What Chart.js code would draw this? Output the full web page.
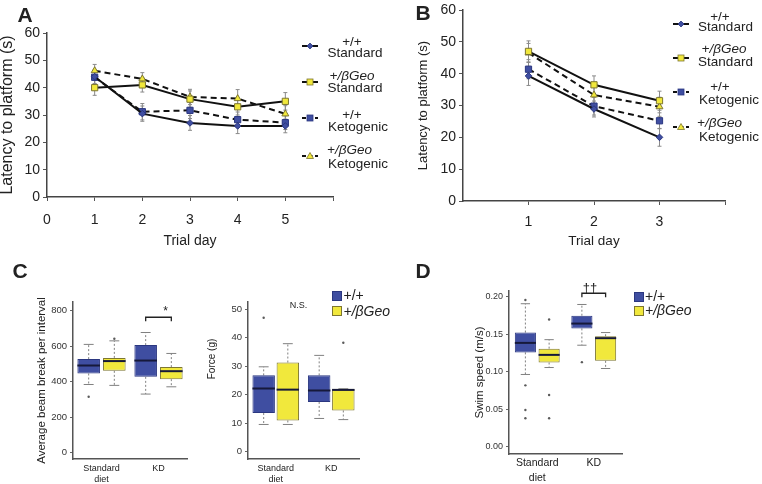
<!DOCTYPE html>
<html><head><meta charset="utf-8">
<script src="https://cdn.jsdelivr.net/npm/chart.js@4.4.1/dist/chart.umd.min.js"></script>
<style>
body{margin:0;background:#fff;}
#wrap{position:relative;width:762px;height:484px;overflow:hidden;font-family:"Liberation Sans",Arial,sans-serif;color:#222;background:#fff;}
canvas{position:absolute;}
.t{position:absolute;white-space:nowrap;transform:translate(-50%,-50%);line-height:1;}
.l{position:absolute;white-space:nowrap;transform:translate(0,-50%);line-height:1;}
svg{position:absolute;overflow:visible;}
</style></head><body><div id="wrap"></div>
<script>
// ---------------- DATA ----------------
// Panel A (5 trial days)
const daysA = [1, 2, 3, 4, 5];
const aWtStd = [44.0, 30.5, 27.1, 26.0, 26.0];
const aWtStdErr = [2.5, 2.8, 2.7, 2.8, 2.5];
const aHetStd = [40.0, 41.0, 35.8, 33.0, 35.0];
const aHetStdErr = [2.8, 2.6, 3.0, 3.0, 3.2];
const aWtKeto = [43.8, 31.2, 31.7, 28.3, 27.2];
const aWtKetoErr = [2.5, 3.0, 3.0, 2.8, 2.5];
const aHetKeto = [46.2, 43.2, 36.6, 36.0, 30.4];
const aHetKetoErr = [2.3, 2.3, 2.8, 3.3, 3.0];
// Panel B (3 trial days)
const daysB = [1, 2, 3];
const bWtStd = [39.3, 28.9, 20.0];
const bWtStdErr = [3.0, 2.5, 2.8];
const bHetStd = [47.0, 36.5, 31.5];
const bHetStdErr = [3.3, 2.8, 3.0];
const bWtKeto = [41.4, 29.8, 25.2];
const bWtKetoErr = [3.0, 2.8, 2.5];
const bHetKeto = [46.5, 33.3, 29.6];
const bHetKetoErr = [3.0, 3.0, 3.0];
const lineTicksY = [0, 10, 20, 30, 40, 50, 60];
const xTicksA = [0, 1, 2, 3, 4, 5, 6];
const xTicksB = [1, 2, 3, 4];
// Box plots: categories
const dietCats = [['Standard', 'diet'], 'KD'];
// C left: beam breaks
const beamWt = {q1: [447, 428], med: [492, 520], q3: [528, 607], lo: [385, 331], hi: [611, 678], out: [[316], []]};
const beamHet = {q1: [462, 415], med: [517, 460], q3: [535, 483], lo: [380, 372], hi: [631, 560], out: [[643], []]};
const beamTicks = [0, 200, 400, 600, 800];
// C right: force
const forceWt = {q1: [13.6, 17.5], med: [22.2, 21.5], q3: [26.8, 26.8], lo: [9.6, 11.7], hi: [29.8, 33.8], out: [[47], []]};
const forceHet = {q1: [11.0, 14.5], med: [21.8, 21.7], q3: [31.3, 22.1], lo: [9.6, 11.3], hi: [37.9, 22.1], out: [[], [38.2]]};
const forceTicks = [0, 10, 20, 30, 40, 50];
// D: swim speed
const swimWt = {q1: [0.126, 0.158], med: [0.1387, 0.1645], q3: [0.1525, 0.175], lo: [0.0965, 0.1356], hi: [0.191, 0.190], out: [[0.196, 0.082, 0.049, 0.038], [0.113]]};
const swimHet = {q1: [0.1125, 0.1147], med: [0.1227, 0.145], q3: [0.131, 0.1476], lo: [0.1058, 0.1045], hi: [0.143, 0.1525], out: [[0.170, 0.069, 0.038], []]};
const swimTicks = [0, 0.05, 0.10, 0.15, 0.20];
// --------------------------------------

const FONT = '"Liberation Sans", Arial, sans-serif';
Chart.defaults.font.family = FONT;
Chart.defaults.color = '#222';
const BLUE = '#3f4ea1', BLUE_EDGE = '#2b3780', YEL = '#f1e83c', YEL_EDGE = '#7d7630';
const wrap = document.getElementById('wrap');

function mkCanvas(box) {
  const c = document.createElement('canvas');
  c.width = box.w; c.height = box.h;
  Object.assign(c.style, {left: box.left + 'px', top: box.top + 'px', width: box.w + 'px', height: box.h + 'px'});
  wrap.appendChild(c);
  return c;
}
function txt(html, cx, cy, css, cls) {
  const d = document.createElement('div');
  d.className = cls || 't';
  d.innerHTML = html;
  d.style.left = cx + 'px'; d.style.top = cy + 'px';
  Object.assign(d.style, css || {});
  wrap.appendChild(d);
  return d;
}

const errorBars = {
  id: 'errorBars',
  beforeDatasetsDraw(chart) {
    const ctx = chart.ctx, y = chart.scales.y;
    chart.data.datasets.forEach((ds, i) => {
      if (!ds.err) return;
      chart.getDatasetMeta(i).data.forEach((pt, j) => {
        const v = ds.data[j].y, e = ds.err[j];
        const y1 = y.getPixelForValue(v + e), y2 = y.getPixelForValue(v - e);
        ctx.save();
        ctx.strokeStyle = '#8a8a8a'; ctx.lineWidth = 1;
        ctx.beginPath();
        ctx.moveTo(pt.x, y1); ctx.lineTo(pt.x, y2);
        ctx.moveTo(pt.x - 2, y1); ctx.lineTo(pt.x + 2, y1);
        ctx.moveTo(pt.x - 2, y2); ctx.lineTo(pt.x + 2, y2);
        ctx.stroke();
        ctx.restore();
      });
    });
  }
};

const ST = {
  wtStd: {pointStyle: 'rectRot', pointRadius: 3.3, pointBackgroundColor: BLUE, pointBorderColor: BLUE_EDGE},
  hetStd: {pointStyle: 'rect', pointRadius: 4.4, pointBackgroundColor: YEL, pointBorderColor: YEL_EDGE},
  wtKeto: {borderDash: [6, 4], pointStyle: 'rect', pointRadius: 4.4, pointBackgroundColor: BLUE, pointBorderColor: BLUE_EDGE},
  hetKeto: {borderDash: [6, 4], pointStyle: 'triangle', pointRadius: 4, pointBackgroundColor: YEL, pointBorderColor: YEL_EDGE}
};
function series(label, days, vals, errs, style) {
  return Object.assign({label, data: days.map((d, i) => ({x: d, y: vals[i]})), err: errs,
    borderColor: '#111', borderWidth: 2, fill: false, tension: 0, pointBorderWidth: 1}, style);
}

function lineChart(box, area, datasets, xmax, xticks, fs) {
  const c = mkCanvas(box);
  const yW = area.l - box.left, xH = box.top + box.h - area.b;
  return new Chart(c, {
    type: 'line', data: {datasets}, plugins: [errorBars],
    options: {
      responsive: false, animation: false, devicePixelRatio: 1,
      layout: {padding: {left: 0, top: area.t - box.top, right: box.left + box.w - area.r, bottom: 0}},
      plugins: {legend: {display: false}, tooltip: {enabled: false}},
      scales: {
        x: {type: 'linear', min: 0, max: xmax,
          afterBuildTicks: s => { s.ticks = xticks.map(v => ({value: v})); },
          ticks: {autoSkip: false, maxRotation: 0, callback: v => (v === xmax ? '' : String(v)), font: {size: fs.tick, lineHeight: 1}, color: '#222', padding: fs.xpad},
          grid: {drawOnChartArea: false, tickLength: 4, color: '#555'},
          border: {color: '#444', width: 1.5},
          title: {display: true, text: 'Trial day', font: {size: fs.xt, lineHeight: 1}, padding: {top: 0, bottom: fs.xtb}},
          afterFit: s => { s.height = xH; }},
        y: {min: 0, max: 60,
          afterBuildTicks: s => { s.ticks = lineTicksY.map(v => ({value: v})); },
          ticks: {font: {size: fs.tick, lineHeight: 1}, color: '#222', padding: 3},
          grid: {drawOnChartArea: false, tickLength: 4, color: '#555'},
          border: {color: '#444', width: 1.5},
          title: {display: true, text: 'Latency to platform (s)', font: {size: fs.yt, lineHeight: 1}, padding: {top: fs.ytp, bottom: 0}},
          afterFit: s => { s.width = yW; }}
      }
    }
  });
}

function makeBoxPlugin(bracketY) {
  return {
    id: 'boxPlot',
    beforeDatasetsDraw(chart) {
      const ctx = chart.ctx, y = chart.scales.y;
      chart.data.datasets.forEach((ds, i) => {
        const st = ds.stat;
        chart.getDatasetMeta(i).data.forEach((el, j) => {
          const x = el.x, cw = el.width * 0.22;
          ctx.save();
          ctx.strokeStyle = '#808080'; ctx.lineWidth = 1;
          ctx.setLineDash([2, 2]);
          ctx.beginPath();
          ctx.moveTo(x, y.getPixelForValue(st.q3[j])); ctx.lineTo(x, y.getPixelForValue(st.hi[j]));
          ctx.moveTo(x, y.getPixelForValue(st.q1[j])); ctx.lineTo(x, y.getPixelForValue(st.lo[j]));
          ctx.stroke();
          ctx.setLineDash([]);
          ctx.beginPath();
          [st.hi[j], st.lo[j]].forEach(v => { const p = y.getPixelForValue(v); ctx.moveTo(x - cw, p); ctx.lineTo(x + cw, p); });
          ctx.stroke();
          ctx.restore();
        });
      });
    },
    afterDatasetsDraw(chart) {
      const ctx = chart.ctx, y = chart.scales.y;
      chart.data.datasets.forEach((ds, i) => {
        const st = ds.stat;
        chart.getDatasetMeta(i).data.forEach((el, j) => {
          const x = el.x, hw = el.width / 2;
          ctx.save();
          ctx.strokeStyle = '#16193a'; ctx.lineWidth = 2;
          const m = y.getPixelForValue(st.med[j]);
          ctx.beginPath(); ctx.moveTo(x - hw, m); ctx.lineTo(x + hw, m); ctx.stroke();
          ctx.fillStyle = '#5a5a5a';
          st.out[j].forEach(v => { ctx.beginPath(); ctx.arc(x, y.getPixelForValue(v), 1.2, 0, Math.PI * 2); ctx.fill(); });
          ctx.restore();
        });
      });
      if (bracketY !== null) {
        const x1 = chart.getDatasetMeta(0).data[1].x, x2 = chart.getDatasetMeta(1).data[1].x;
        const by = y.getPixelForValue(bracketY);
        ctx.save();
        ctx.strokeStyle = '#222'; ctx.lineWidth = 1.3;
        ctx.beginPath();
        ctx.moveTo(x1, by + 4); ctx.lineTo(x1, by); ctx.lineTo(x2, by); ctx.lineTo(x2, by + 4);
        ctx.stroke();
        ctx.restore();
      }
    }
  };
}

function boxChart(box, area, wt, het, yr, yticks, fs) {
  const c = mkCanvas(box);
  const yW = area.l - box.left, xH = box.top + box.h - area.b;
  const ds = (st, lab, bg, edge) => ({label: lab, data: st.q1.map((q, i) => [q, st.q3[i]]), stat: st,
    backgroundColor: bg, borderColor: edge, borderWidth: 1, borderSkipped: false,
    categoryPercentage: fs.cat, barPercentage: fs.bar});
  return new Chart(c, {
    type: 'bar',
    data: {labels: dietCats, datasets: [ds(wt, '+/+', BLUE, BLUE_EDGE), ds(het, '+/βGeo', YEL, YEL_EDGE)]},
    plugins: [makeBoxPlugin(fs.bracket)],
    options: {
      responsive: false, animation: false, devicePixelRatio: 1,
      layout: {padding: {left: 0, top: area.t - box.top, right: box.left + box.w - area.r, bottom: 0}},
      plugins: {legend: {display: false}, tooltip: {enabled: false}},
      scales: {
        x: {type: 'category', offset: true,
          ticks: {autoSkip: false, maxRotation: 0, font: {size: fs.xtick, lineHeight: fs.xlh}, color: '#222', padding: fs.xpad},
          grid: {display: false, drawTicks: false},
          border: {display: true, color: '#555', width: 1.5},
          afterFit: s => { s.height = xH; }},
        y: {min: yr[0], max: yr[1],
          afterBuildTicks: s => { s.ticks = yticks.map(v => ({value: v})); },
          ticks: {font: {size: fs.ytick, lineHeight: 1}, color: '#333', padding: 3, callback: fs.fmt},
          grid: {drawOnChartArea: false, tickLength: 3, color: '#666'},
          border: {color: '#555', width: 1.5},
          title: {display: !!fs.ytitle, text: fs.ytitle || '', font: {size: fs.yt, lineHeight: 1}, padding: {top: fs.ytp, bottom: 0}},
          afterFit: s => { s.width = yW; }}
      }
    }
  });
}

// ---- Panel A ----
lineChart({left: 0, top: 0, w: 345, h: 252}, {l: 47, t: 33, r: 333, b: 197}, [
  series('+/+ Standard', daysA, aWtStd, aWtStdErr, ST.wtStd),
  series('+/βGeo Standard', daysA, aHetStd, aHetStdErr, ST.hetStd),
  series('+/+ Ketogenic', daysA, aWtKeto, aWtKetoErr, ST.wtKeto),
  series('+/βGeo Ketogenic', daysA, aHetKeto, aHetKetoErr, ST.hetKeto)
], 6, xTicksA, {tick: 14, xpad: 12, xt: 14, xtb: 4, yt: 16, ytp: 0});

// ---- Panel B ----
lineChart({left: 395, top: 0, w: 340, h: 252}, {l: 463, t: 6, r: 725, b: 201}, [
  series('+/+ Standard', daysB, bWtStd, bWtStdErr, ST.wtStd),
  series('+/βGeo Standard', daysB, bHetStd, bHetStdErr, ST.hetStd),
  series('+/+ Ketogenic', daysB, bWtKeto, bWtKetoErr, ST.wtKeto),
  series('+/βGeo Ketogenic', daysB, bHetKeto, bHetKetoErr, ST.hetKeto)
], 4, xTicksB, {tick: 14, xpad: 10, xt: 13.5, xtb: 4, yt: 13, ytp: 22});

// ---- Panel C ----
boxChart({left: 0, top: 280, w: 200, h: 204}, {l: 73, t: 302, r: 187, b: 459}, beamWt, beamHet, [-35, 850], beamTicks,
  {cat: 0.9, bar: 0.88, xtick: 9, xlh: 1.2, xpad: 4, ytick: 9.5, ytitle: 'Average beam break per interval', yt: 11.5, ytp: 36, bracket: 764});
boxChart({left: 200, top: 280, w: 170, h: 204}, {l: 248, t: 302, r: 359, b: 459}, forceWt, forceHet, [-2.5, 52.5], forceTicks,
  {cat: 0.87, bar: 0.93, xtick: 9, xlh: 1.2, xpad: 4, ytick: 9.5, ytitle: '', yt: 10, ytp: 0, bracket: null});

// ---- Panel D ----
boxChart({left: 460, top: 270, w: 175, h: 214}, {l: 509, t: 291, r: 622, b: 454}, swimWt, swimHet, [-0.0097, 0.208], swimTicks,
  {cat: 0.84, bar: 0.89, xtick: 10.5, xlh: 1.4, xpad: 2, ytick: 9, fmt: v => v.toFixed(2), ytitle: 'Swim speed (m/s)', yt: 11.5, ytp: 14, bracket: 0.205});

// ---- Text overlays ----
const LETTER = {fontWeight: 'bold', fontSize: '21px', color: '#222'};
txt('A', 25, 14, LETTER); txt('B', 423, 12, LETTER); txt('C', 20, 270, LETTER); txt('D', 423, 270, LETTER);
txt('Force (g)', 212, 359, {fontSize: '10px', transform: 'translate(-50%,-50%) rotate(-90deg)'});
txt('N.S.', 298.5, 305, {fontSize: '9px'});
txt('*', 165.5, 311, {fontSize: '12px'});
txt('††', 590, 287, {fontSize: '13px'});

// line legends
function lineLegend(items) {
  items.forEach(it => {
    const s = document.createElementNS('http://www.w3.org/2000/svg', 'svg');
    s.setAttribute('width', 18); s.setAttribute('height', 10);
    s.style.left = (it.sx - 9) + 'px'; s.style.top = (it.sy - 5) + 'px';
    const st = it.style;
    let m = '';
    const fill = st.pointBackgroundColor, edge = st.pointBorderColor;
    if (st.pointStyle === 'rectRot') m = `<polygon points="9,2 12,5 9,8 6,5" fill="${fill}" stroke="${edge}" stroke-width="0.8"/>`;
    else if (st.pointStyle === 'rect') m = `<rect x="6" y="2" width="6" height="6" fill="${fill}" stroke="${edge}" stroke-width="0.8"/>`;
    else m = `<polygon points="9,1.5 12.5,7.5 5.5,7.5" fill="${fill}" stroke="${edge}" stroke-width="0.8"/>`;
    s.innerHTML = `<line x1="1" y1="5" x2="17" y2="5" stroke="#111" stroke-width="2" ${st.borderDash ? 'stroke-dasharray="4,2.5"' : ''}/>` + m;
    wrap.appendChild(s);
    txt(it.top, it.tx, it.ty, {fontSize: '13.5px', fontStyle: it.it ? 'italic' : 'normal'});
    txt(it.bottom, it.bx, it.by, {fontSize: '13.5px'});
  });
}
lineLegend([
  {sx: 310, sy: 46, style: ST.wtStd, top: '+/+', tx: 352, ty: 42, bottom: 'Standard', bx: 355, by: 53},
  {sx: 310, sy: 82, style: ST.hetStd, top: '+/βGeo', it: true, tx: 352, ty: 76, bottom: 'Standard', bx: 355, by: 88},
  {sx: 310, sy: 118, style: ST.wtKeto, top: '+/+', tx: 352, ty: 115, bottom: 'Ketogenic', bx: 358, by: 127},
  {sx: 310, sy: 156, style: ST.hetKeto, top: '+/βGeo', it: true, tx: 349.5, ty: 150, bottom: 'Ketogenic', bx: 358, by: 164}
]);
lineLegend([
  {sx: 680.5, sy: 24, style: ST.wtStd, top: '+/+', tx: 720, ty: 17, bottom: 'Standard', bx: 725.5, by: 27},
  {sx: 680.5, sy: 58, style: ST.hetStd, top: '+/βGeo', it: true, tx: 724, ty: 49, bottom: 'Standard', bx: 725.5, by: 62},
  {sx: 680.5, sy: 92, style: ST.wtKeto, top: '+/+', tx: 720, ty: 87, bottom: 'Ketogenic', bx: 729, by: 100},
  {sx: 680.5, sy: 127, style: ST.hetKeto, top: '+/βGeo', it: true, tx: 719.5, ty: 123, bottom: 'Ketogenic', bx: 729, by: 137}
]);

// box legends
function boxLegend(x, y1, y2, tx) {
  [[y1, BLUE, BLUE_EDGE, '+/+', false], [y2, YEL, YEL_EDGE, '+/βGeo', true]].forEach(([y, f, e, t, it]) => {
    const d = document.createElement('div');
    Object.assign(d.style, {position: 'absolute', left: x + 'px', top: (y - 4.5) + 'px', width: '8px', height: '8px', background: f, border: '1px solid ' + e});
    wrap.appendChild(d);
    txt(t, tx, y, {fontSize: '14px', fontStyle: it ? 'italic' : 'normal'}, 'l');
  });
}
boxLegend(332, 295, 310.5, 343.5);
boxLegend(634, 296, 310, 645);
</script></body></html>
